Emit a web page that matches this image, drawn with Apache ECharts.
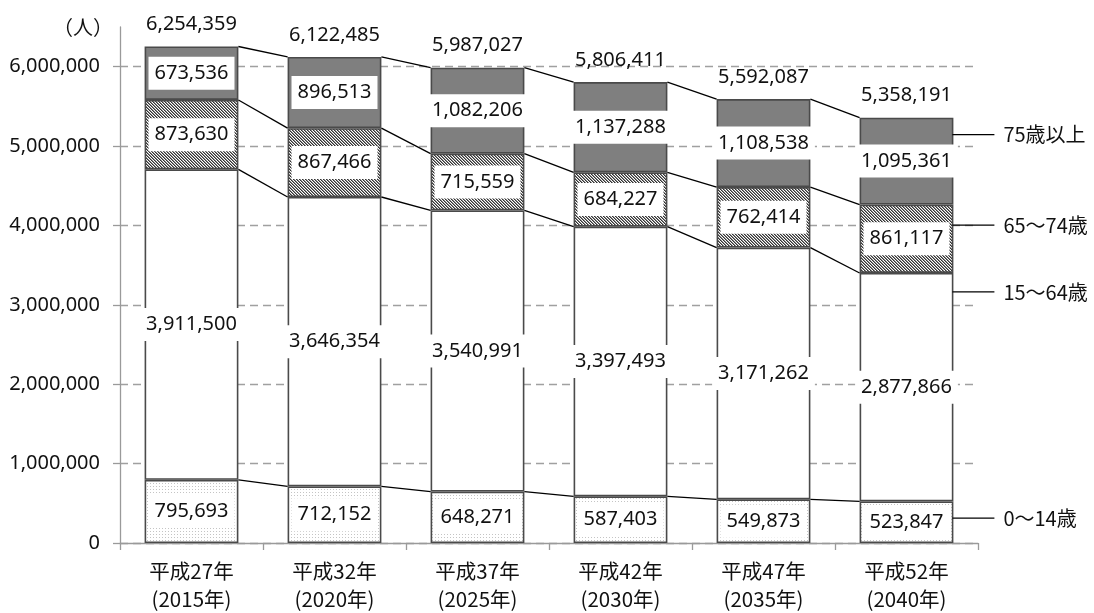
<!DOCTYPE html>
<html><head><meta charset="utf-8">
<script src="https://cdn.jsdelivr.net/npm/echarts@6/dist/echarts.min.js"></script>
<style>html,body{margin:0;padding:0;background:#fff}#c{width:1094px;height:613px}</style>
</head><body><div id="c"></div>
<script>
const categories = ['平成27年\n(2015年)', '平成32年\n(2020年)', '平成37年\n(2025年)', '平成42年\n(2030年)', '平成47年\n(2035年)', '平成52年\n(2040年)'];
const age0_14  = [795693, 712152, 648271, 587403, 549873, 523847];
const age15_64 = [3911500, 3646354, 3540991, 3397493, 3171262, 2877866];
const age65_74 = [873630, 867466, 715559, 684227, 762414, 861117];
const age75    = [673536, 896513, 1082206, 1137288, 1108538, 1095361];
const totals   = [6254359, 6122485, 5987027, 5806411, 5592087, 5358191];
const seriesNames = ['0～14歳', '15～64歳', '65～74歳', '75歳以上'];
const yTicks = [0, 1000000, 2000000, 3000000, 4000000, 5000000, 6000000];

const BAR_RATIO = 0.656;
const FONT = '"Noto Sans", "Noto Sans CJK JP", sans-serif';
const CJK = '"Noto Sans CJK JP", "Noto Sans", sans-serif';
const fmt = v => String(Math.round(v)).replace(/\B(?=(\d{3})+(?!\d))/g, ',');

function pattern(w, h, draw) {
  const c = document.createElement('canvas'); c.width = w; c.height = h;
  const ctx = c.getContext('2d'); draw(ctx); return {image: c, repeat: 'repeat'};
}
const hatch = pattern(3, 3, ctx => {
  ctx.fillStyle = '#ffffff'; ctx.fillRect(0, 0, 3, 3);
  for (let y = 0; y < 3; y++) {
    ctx.fillStyle = '#333333'; ctx.fillRect(y % 3, y, 1, 1);
    ctx.fillStyle = '#8a8a8a'; ctx.fillRect((y + 1) % 3, y, 1, 1);
  }
});
const dots = pattern(3, 3, ctx => {
  ctx.fillStyle = '#ffffff'; ctx.fillRect(0, 0, 3, 3);
  ctx.fillStyle = '#c4c4c4'; ctx.fillRect(0, 0, 1, 1);
});

const stacks = [age0_14, age15_64, age65_74, age75];
const fills = [dots, '#ffffff', hatch, '#7f7f7f'];
const cum = [];
let run = categories.map(() => 0);
stacks.forEach(s => { run = run.map((v, i) => v + s[i]); cum.push(run.slice()); });

const connData = [];
for (let k = 0; k < cum.length; k++) for (let i = 0; i < categories.length - 1; i++) connData.push([i, cum[k][i], cum[k][i + 1]]);

// where the side labels point within the last bar's segments (fraction of segment height)
const annotFrac = [0.6, 0.917, 0.70, 0.805];
const last = categories.length - 1;
const annotData = stacks.map((s, k) => {
  const base = k === 0 ? 0 : cum[k - 1][last];
  return [last, base + annotFrac[k] * s[last], seriesNames[k]];
});
const totalData = totals.map((t, i) => [i, t]);

const barSeries = stacks.map((s, k) => ({
  name: seriesNames[k], type: 'bar', stack: 'pop', data: s, barWidth: (BAR_RATIO * 100) + '%',
  itemStyle: {color: fills[k], borderColor: '#4a4a4a', borderWidth: 1.6},
  label: {show: true, position: 'inside', formatter: p => fmt(p.value), backgroundColor: '#fff',
    padding: [7, 6, 6, 6], fontSize: 20, color: '#111', fontFamily: FONT},
  z: 2
}));

const chart = echarts.init(document.getElementById('c'));
chart.setOption({
  animation: false,
  backgroundColor: '#fff',
  grid: {left: 120, right: 116, top: 27, bottom: 68},
  xAxis: {
    type: 'category', data: categories,
    axisLine: {lineStyle: {color: '#9a9a9a', width: 1.3}},
    axisTick: {show: true, length: 7, lineStyle: {color: '#9a9a9a', width: 1.3}},
    axisLabel: {fontSize: 20.5, lineHeight: 28, margin: 14, color: '#111', fontFamily: CJK}
  },
  yAxis: {
    type: 'value', min: 0, max: 6500000, interval: 1000000,
    name: '（人）', nameLocation: 'end', nameGap: 0,
    nameTextStyle: {align: 'right', verticalAlign: 'middle', padding: [0, 7, 0, 0], fontSize: 20, color: '#111', fontFamily: CJK},
    axisLine: {show: true, lineStyle: {color: '#9a9a9a', width: 1.3}},
    axisTick: {show: true, length: 7, lineStyle: {color: '#9a9a9a', width: 1.3}, customValues: yTicks},
    axisLabel: {fontSize: 20, margin: 20, color: '#111', fontFamily: FONT, customValues: yTicks,
      formatter: v => v > 6000000 ? '' : fmt(v)},
    splitLine: {show: true, lineStyle: {color: '#a0a0a0', width: 1.3, type: [8, 5]}}
  },
  series: barSeries.concat([
    {
      type: 'custom', data: connData, encode: {x: 0, y: 1}, z: 5, silent: true,
      renderItem(params, api) {
        const i = api.value(0);
        const p1 = api.coord([i, api.value(1)]);
        const p2 = api.coord([i + 1, api.value(2)]);
        const bw = api.size([1, 0])[0] * BAR_RATIO;
        return {type: 'line', shape: {x1: p1[0] + bw / 2, y1: p1[1], x2: p2[0] - bw / 2, y2: p2[1]},
          style: {stroke: '#000', lineWidth: 1.3}};
      }
    },
    {
      type: 'custom', data: totalData, encode: {x: 0, y: 1}, z: 5, silent: true,
      renderItem(params, api) {
        const p = api.coord([api.value(0), api.value(1)]);
        return {type: 'text', style: {text: fmt(api.value(1)), x: p[0], y: p[1] - 22, align: 'center', verticalAlign: 'middle',
          fontSize: 20, fontFamily: FONT, fill: '#111'}};
      }
    },
    {
      type: 'custom', data: annotData, encode: {x: 0, y: 1}, z: 5, silent: true,
      renderItem(params, api) {
        const p = api.coord([api.value(0), api.value(1)]);
        const bw = api.size([1, 0])[0] * BAR_RATIO;
        const x0 = p[0] + bw / 2 - 1;
        return {type: 'group', children: [
          {type: 'line', shape: {x1: x0, y1: p[1], x2: x0 + 42, y2: p[1]}, style: {stroke: '#000', lineWidth: 1.3}},
          {type: 'text', style: {text: annotData[params.dataIndex][2], x: x0 + 51, y: p[1], align: 'left', verticalAlign: 'middle',
            fontSize: 20, fontFamily: CJK, fill: '#111'}}
        ]};
      }
    }
  ])
});
</script></body></html>
